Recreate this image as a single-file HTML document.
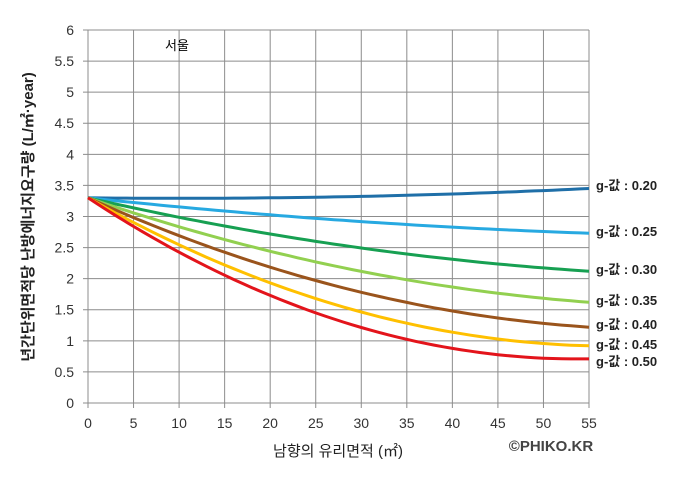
<!DOCTYPE html><html><head><meta charset="utf-8"><style>
body{margin:0;background:#fff}
svg text{font-family:"Liberation Sans","Noto Sans CJK KR",sans-serif}
</style></head><body>
<svg id="s" width="685" height="481" xmlns="http://www.w3.org/2000/svg">
<rect width="685" height="481" fill="#fff"/>
<g id="grid" stroke="#8c8c8c" stroke-width="1"></g>
<g id="lines" fill="none" stroke-width="3"></g>
<g id="lab" font-size="14" fill="#333"></g>
<text x="165" y="50" font-size="13" fill="#000">서울</text>
<text transform="translate(33,217) rotate(-90)" text-anchor="middle" font-size="15" font-weight="bold" fill="#222">년간단위면적당 난방에너지요구량 (L/㎡·year)</text>
<text x="338" y="456" text-anchor="middle" font-size="15" fill="#222">남향의 유리면적 (㎡)</text>
<text x="551" y="451" text-anchor="middle" font-size="15" font-weight="bold" fill="#444">©PHIKO.KR</text>
<g font-size="13" font-weight="bold" fill="#222">
<text x="596" y="190">g-값 : 0.20</text>
<text x="596" y="236">g-값 : 0.25</text>
<text x="596" y="274">g-값 : 0.30</text>
<text x="596" y="305">g-값 : 0.35</text>
<text x="596" y="329">g-값 : 0.40</text>
<text x="596" y="349">g-값 : 0.45</text>
<text x="596" y="366">g-값 : 0.50</text>
</g>
</svg>
<script>
var X=v=>88+v*501/55, Y=v=>403-v*62.17;
var g=document.getElementById('grid'),L=document.getElementById('lab'),ns='http://www.w3.org/2000/svg';
function el(p,t,a,txt){var e=document.createElementNS(ns,t);for(var k in a)e.setAttribute(k,a[k]);if(txt!=null)e.textContent=txt;p.appendChild(e);return e;}
for(var i=0;i<=12;i++){var v=i*0.5,y=Y(v);el(g,'line',{x1:83,x2:X(55),y1:y,y2:y});el(L,'text',{x:74,y:y+5,'text-anchor':'end'},String(v));}
for(var i=0;i<=11;i++){var v=i*5,x=X(v);el(g,'line',{x1:x,x2:x,y1:Y(6),y2:408});el(L,'text',{x:x,y:428,'text-anchor':'middle'},String(v));}
var S=[[3.31,3.45,'#1f6fa8'],[2.97,2.73,'#27a9e1'],[2.6,2.12,'#17a052'],[2.27,1.62,'#92d050'],[1.97,1.22,'#9a541c'],[1.68,0.92,'#ffc000'],[1.45,0.71,'#e3141b']];
var Lg=document.getElementById('lines');
S.forEach(function(s){var m=s[0],e=s[1];
// y=3.3+bx+cx^2 through (25,m),(55,e)
var c=((e-3.3)/55-(m-3.3)/25)/30,b=(m-3.3)/25-c*25;var d='';
for(var x=0;x<=55;x+=1){var v=3.3+b*x+c*x*x;d+=(x?'L':'M')+X(x).toFixed(1)+','+Y(v).toFixed(1);}
el(Lg,'path',{d:d,stroke:s[2]});});
</script>
</body></html>
